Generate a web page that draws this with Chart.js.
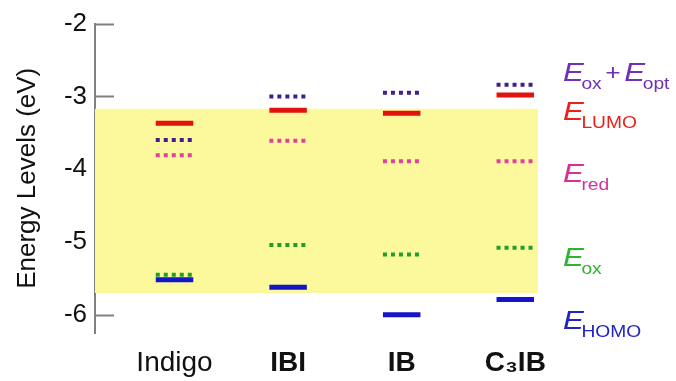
<!DOCTYPE html>
<html>
<head>
<meta charset="utf-8">
<script src="https://cdn.jsdelivr.net/npm/chart.js@4.4.1/dist/chart.umd.min.js"></script>
<style>
html, body { margin: 0; padding: 0; background: #fff; }
#wrap { width: 676px; height: 381px; }
</style>
</head>
<body>
<div id="wrap"><canvas id="levels_chart"></canvas></div>
<script>
// energy levels (eV)
var categories = ["Indigo", "IBI", "IB", "C\u2083IB"];
var eOxOpt = [-3.60, -3.00, -2.95, -2.84];
var eLumo = [-3.37, -3.19, -3.23, -2.98];
var eRed = [-3.81, -3.61, -3.89, -3.89];
var eOx = [-5.45, -5.04, -5.17, -5.08];
var eHomo = [-5.52, -5.62, -6.00, -5.79];
var yTicks = [-2, -3, -4, -5, -6];
var bandTop = -3.17;
var bandBottom = -5.70;

var X_MIN = 0.3, X_MAX = 4.2, HALF = 0.165;
var FONT = "'Liberation Sans', Arial, Helvetica, sans-serif";

// turn one value per category into short horizontal segments
function levelPoints(values) {
  var pts = [];
  for (var i = 0; i < values.length; i++) {
    pts.push({x: i + 1 - HALF, y: values[i]});
    pts.push({x: i + 1 + HALF, y: values[i]});
    pts.push({x: i + 1.5, y: null});
  }
  return pts;
}

function levelSet(label, values, color, dashed, order) {
  return {
    label: label,
    data: levelPoints(values),
    borderColor: color,
    borderWidth: dashed ? 4 : 5,
    borderDash: dashed ? [4, 4] : [],
    borderCapStyle: "butt",
    pointRadius: 0,
    fill: false,
    spanGaps: false,
    clip: false,
    order: order
  };
}

// labels on the right side, [main, subscript] parts
var sideLabels = [
  {color: "#7031b5", at: -2.79, parts: [["E", "ox"], ["+", null], ["E", "opt"]]},
  {color: "#e8231d", at: -3.33, parts: [["E", "LUMO"]]},
  {color: "#d4309c", at: -4.17, parts: [["E", "red"]]},
  {color: "#2db52d", at: -5.33, parts: [["E", "ox"]]},
  {color: "#2323c2", at: -6.20, parts: [["E", "HOMO"]]}
];

var innerTicks = {
  id: "innerTicks",
  beforeDatasetsDraw: function(chart) {
    var ctx = chart.ctx, y = chart.scales.y, left = chart.chartArea.left;
    ctx.save();
    ctx.strokeStyle = "#808080";
    ctx.lineWidth = 2;
    y.ticks.forEach(function(t) {
      var py = Math.round(y.getPixelForValue(t.value)) + 0.5;
      ctx.beginPath();
      ctx.moveTo(left, py);
      ctx.lineTo(left + 19, py);
      ctx.stroke();
    });
    ctx.restore();
  }
};

var sideText = {
  id: "sideText",
  afterDraw: function(chart) {
    var ctx = chart.ctx, y = chart.scales.y;
    var x0 = chart.chartArea.right + 25;
    var sx = 1.2;
    ctx.save();
    ctx.textBaseline = "alphabetic";
    ctx.textAlign = "left";
    sideLabels.forEach(function(lab) {
      var base = y.getPixelForValue(lab.at);
      var x = 0;
      ctx.save();
      ctx.translate(x0, base);
      ctx.scale(sx, 1);
      ctx.fillStyle = lab.color;
      lab.parts.forEach(function(p) {
        if (p[1] === null) {
          ctx.font = "22px " + FONT;
          x += 3;
          ctx.fillText(p[0], x, -1);
          x += ctx.measureText(p[0]).width + 3;
          return;
        }
        ctx.font = "italic 26px " + FONT;
        ctx.fillText(p[0], x, 0);
        x += ctx.measureText(p[0]).width - 2;
        ctx.font = "16px " + FONT;
        ctx.fillText(p[1], x, 8);
        x += ctx.measureText(p[1]).width;
      });
      ctx.restore();
    });
    ctx.restore();
  }
};

var ctx = document.getElementById("levels_chart").getContext("2d");
var levelsChart = new Chart(ctx, {
  type: "line",
  data: {
    datasets: [
      levelSet("Eox + Eopt", eOxOpt, "#3d1f8e", true, 2),
      levelSet("ELUMO", eLumo, "#e2120e", false, 3),
      levelSet("Ered", eRed, "#e2409c", true, 2),
      levelSet("Eox", eOx, "#1f9e2a", true, 1),
      levelSet("EHOMO", eHomo, "#1414c8", false, 3),
      {
        label: "band top",
        data: [{x: X_MIN, y: bandTop}, {x: X_MAX, y: bandTop}],
        borderWidth: 0,
        pointRadius: 0,
        backgroundColor: "#fcf89c",
        fill: "+1",
        order: 10
      },
      {
        label: "band bottom",
        data: [{x: X_MIN, y: bandBottom}, {x: X_MAX, y: bandBottom}],
        borderWidth: 0,
        pointRadius: 0,
        fill: false,
        order: 10
      }
    ]
  },
  options: {
    responsive: true,
    maintainAspectRatio: false,
    animation: false,
    layout: {padding: {left: 0, right: 138, top: 14, bottom: 0}},
    plugins: {legend: {display: false}, tooltip: {enabled: false}},
    scales: {
      x: {
        type: "linear",
        min: X_MIN,
        max: X_MAX,
        grid: {display: false},
        border: {display: false},
        afterBuildTicks: function(s) {
          s.ticks = categories.map(function(c, i) { return {value: i + 1}; });
        },
        afterFit: function(s) { s.height = 48; },
        ticks: {
          autoSkip: false,
          maxRotation: 0,
          padding: 5,
          color: "#111",
          font: function(c) {
            return {family: FONT, size: 28, weight: c.index === 0 ? "normal" : "bold"};
          },
          callback: function(v) { return categories[Math.round(v) - 1]; }
        }
      },
      y: {
        min: -6.25,
        max: -2,
        grid: {display: true, drawOnChartArea: false, drawTicks: false},
        border: {display: true, color: "#808080", width: 2},
        afterBuildTicks: function(s) {
          s.ticks = yTicks.map(function(v) { return {value: v}; });
        },
        afterFit: function(s) { s.width = 95; },
        ticks: {
          padding: 8,
          color: "#111",
          font: {family: FONT, size: 26},
          callback: function(v) { return String(v); }
        },
        title: {
          display: true,
          text: "Energy Levels (eV)",
          color: "#111",
          font: {family: FONT, size: 26},
          padding: {top: 12, bottom: 0}
        }
      }
    }
  },
  plugins: [innerTicks, sideText]
});
</script>
</body>
</html>
